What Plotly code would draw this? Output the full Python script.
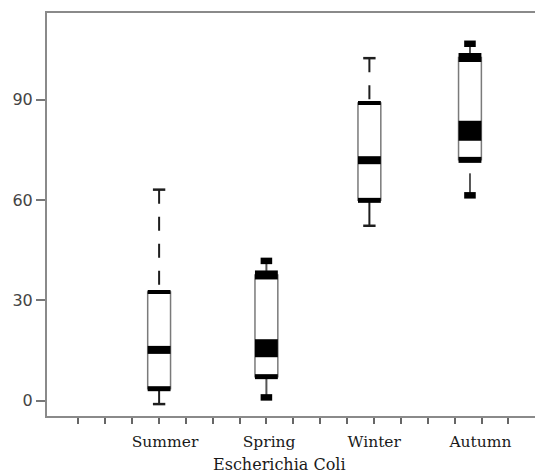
import plotly.graph_objects as go

# ---- data ----
seasons = ["Summer", "Spring", "Winter", "Autumn"]
lower = [-1.0, 1.0, 52.3, 61.4]
q1 = [3.6, 7.2, 59.9, 72.0]
median = [15.2, 15.7, 71.9, 80.7]
q3 = [32.5, 37.6, 89.0, 102.6]
upper = [63.1, 41.8, 102.4, 106.7]
y_ticks = [0, 30, 60, 90]
x_title = "Escherichia Coli"

# ---- layout / style (not data) ----
box_pos = [3.01, 7.0, 10.83, 14.57]
label_pos = [3.23, 7.1, 11.01, 14.96]
minor_ticks = list(range(17))
BOX_W = 0.85
CAP_W = 0.46
RECT_W = 0.43
end_kind = ["cap", "rect", "cap", "rect"]
upper_dash = ["14px,13px", "solid", "14px,13px", "solid"]
lower_dash = ["solid", "solid", "solid", "22px,14px"]
q1_px = [5, 5, 5, 6]
med_px = [8, 18, 8, 20]
q3_px = [4, 9, 4, 9]

fig = go.Figure()


def hseg(xc, width_units, yv, px, color="black"):
    fig.add_trace(go.Scatter(
        x=[xc - width_units / 2, xc + width_units / 2], y=[yv, yv],
        mode="lines", line=dict(color=color, width=px),
        hoverinfo="skip", showlegend=False))


for i in range(len(seasons)):
    fig.add_trace(go.Box(
        x=[box_pos[i]], q1=[q1[i]], median=[median[i]], q3=[q3[i]],
        lowerfence=[q1[i]], upperfence=[q3[i]], width=BOX_W, whiskerwidth=0,
        fillcolor="white", line=dict(color="#7a7a7a", width=1.5),
        boxpoints=False, hoverinfo="skip", showlegend=False))

for i in range(len(seasons)):
    wcol = "#1e1e1e" if end_kind[i] == "cap" else "#555555"
    # upper whisker (drawn from the end toward the box)
    fig.add_trace(go.Scatter(
        x=[box_pos[i], box_pos[i]], y=[upper[i], q3[i]], mode="lines",
        line=dict(color=wcol, width=2, dash=upper_dash[i]),
        hoverinfo="skip", showlegend=False))
    # lower whisker
    fig.add_trace(go.Scatter(
        x=[box_pos[i], box_pos[i]], y=[lower[i], q1[i]], mode="lines",
        line=dict(color=wcol, width=2, dash=lower_dash[i]),
        hoverinfo="skip", showlegend=False))

for i in range(len(seasons)):
    hseg(box_pos[i], BOX_W, q1[i], q1_px[i])
    hseg(box_pos[i], BOX_W, median[i], med_px[i])
    hseg(box_pos[i], BOX_W, q3[i], q3_px[i])
    if end_kind[i] == "cap":
        hseg(box_pos[i], CAP_W, upper[i], 2.5, "#1e1e1e")
        hseg(box_pos[i], CAP_W, lower[i], 2.5, "#1e1e1e")
    else:
        hseg(box_pos[i], RECT_W, upper[i], 6.5)
        hseg(box_pos[i], RECT_W, lower[i], 6.5)

# the page body has an 8px default margin, so the figure is 8px smaller
frame_col = "#8a8a8a"
fig.update_layout(
    width=535, height=466,
    margin=dict(l=39, r=3, t=4, b=58),
    paper_bgcolor="white", plot_bgcolor="white",
    showlegend=False, hovermode=False,
    xaxis=dict(
        range=[-1.159, 17.1], tickmode="array", tickvals=label_pos,
        ticktext=seasons, ticks="outside", ticklen=10,
        tickcolor="rgba(0,0,0,0)", showgrid=False, zeroline=False,
        showline=True, mirror=True, linecolor=frame_col, linewidth=2,
        tickfont=dict(family="DejaVu Serif", size=15.5, color="#1a1a1a"),
        minor=dict(tickmode="array", tickvals=minor_ticks, ticks="outside",
                   ticklen=6, tickcolor="#666666", tickwidth=1.5,
                   showgrid=False),
    ),
    yaxis=dict(
        range=[-4.56, 115.9], tickmode="array", tickvals=y_ticks,
        ticks="outside", ticklen=9, tickcolor="#777777", tickwidth=1.5,
        showgrid=False, zeroline=False, showline=True, mirror=True,
        linecolor=frame_col, linewidth=2,
        tickfont=dict(family="DejaVu Sans", size=16, color="#444444"),
    ),
    annotations=[dict(
        text=x_title, x=(280 - 47) / 493, y=-0.121, xref="paper",
        yref="paper", xanchor="center", yanchor="middle", showarrow=False,
        font=dict(family="DejaVu Serif", size=16, color="#1a1a1a"))],
)

fig.write_html("out.html")
